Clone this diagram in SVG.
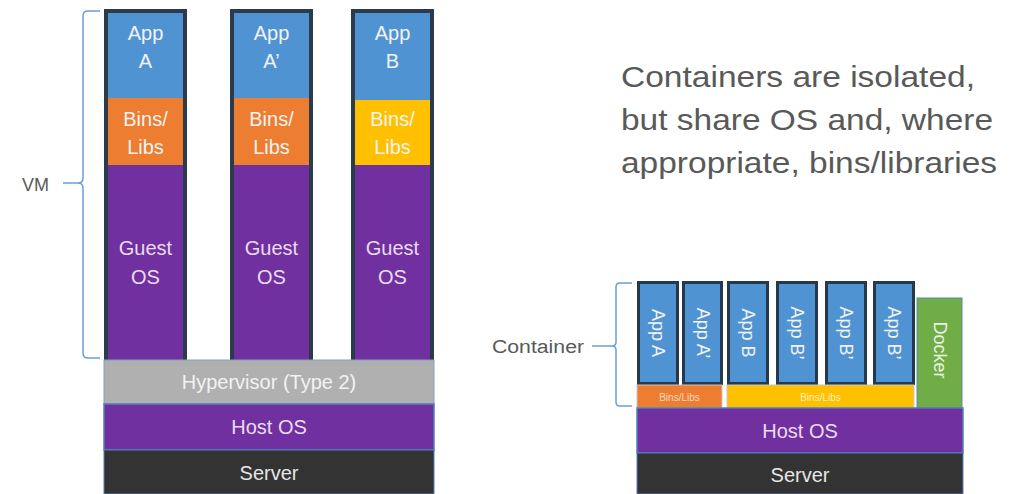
<svg xmlns="http://www.w3.org/2000/svg" width="1016" height="494" viewBox="0 0 1016 494">
<style>
.t{font-family:"Liberation Sans",Arial,sans-serif;text-anchor:middle}
.w{fill:#f2f2f2}
.p{fill:#eadcf0}
.lbl{font-family:"Liberation Sans",Arial,sans-serif;fill:#595959}
.br{fill:none;stroke:#6a9fd4;stroke-width:1.5}
.frame{fill:#2b3b4b}
.app{fill:#5093d3;stroke:#26394a;stroke-width:3}
</style>
<rect width="1016" height="494" fill="#ffffff"/>

<g id="connectors">
<path class="br" d="M100,11 L88,11 Q83,11 83,16 L83,178 Q83,183 78,183 Q83,183 83,188 L83,353 Q83,358 88,358 L100,358"/>
<line class="br" x1="63" y1="183" x2="78" y2="183"/>
<path class="br" d="M632,283 L620,283 Q616,283 616,287 L616,342 Q616,346 612,346 Q616,346 616,350 L616,402 Q616,406 620,406 L632,406"/>
<line class="br" x1="592" y1="346" x2="612" y2="346"/>
</g>

<g id="vm-label"><text class="lbl" x="22" y="191" font-size="18">VM</text></g>
<g id="container-label"><text class="lbl" x="492" y="353" font-size="18" textLength="92" lengthAdjust="spacingAndGlyphs">Container</text></g>

<g id="heading">
<text class="lbl" font-size="30">
<tspan x="621" y="87" textLength="354" lengthAdjust="spacingAndGlyphs">Containers are isolated,</tspan>
<tspan x="621" y="130" textLength="372" lengthAdjust="spacingAndGlyphs">but share OS and, where</tspan>
<tspan x="621" y="173" textLength="376" lengthAdjust="spacingAndGlyphs">appropriate, bins/libraries</tspan>
</text>
</g>

<!-- VM columns -->
<g id="vm1">
<rect class="frame" x="104" y="9" width="83" height="351"/>
<rect x="108" y="13" width="75" height="85" fill="#5093d3"/>
<rect x="108" y="98" width="75" height="67" fill="#ed7d31"/>
<rect x="108" y="165" width="75" height="195" fill="#7030a0"/>
<text class="t w" font-size="20"><tspan x="145.5" y="40">App</tspan><tspan x="145.5" y="68">A</tspan></text>
<text class="t w" font-size="20"><tspan x="145.5" y="126">Bins/</tspan><tspan x="145.5" y="154">Libs</tspan></text>
<text class="t p" font-size="20"><tspan x="145.5" y="255">Guest</tspan><tspan x="145.5" y="284">OS</tspan></text>
</g>
<g id="vm2">
<rect class="frame" x="230" y="9" width="83" height="351"/>
<rect x="234" y="13" width="75" height="85" fill="#5093d3"/>
<rect x="234" y="98" width="75" height="67" fill="#ed7d31"/>
<rect x="234" y="165" width="75" height="195" fill="#7030a0"/>
<text class="t w" font-size="20"><tspan x="271.5" y="40">App</tspan><tspan x="271.5" y="68">A’</tspan></text>
<text class="t w" font-size="20"><tspan x="271.5" y="126">Bins/</tspan><tspan x="271.5" y="154">Libs</tspan></text>
<text class="t p" font-size="20"><tspan x="271.5" y="255">Guest</tspan><tspan x="271.5" y="284">OS</tspan></text>
</g>
<g id="vm3">
<rect class="frame" x="351" y="9" width="83" height="351"/>
<rect x="355" y="13" width="75" height="87" fill="#5093d3"/>
<rect x="355" y="100" width="75" height="65" fill="#ffc000"/>
<rect x="355" y="165" width="75" height="195" fill="#7030a0"/>
<text class="t w" font-size="20"><tspan x="392.5" y="40">App</tspan><tspan x="392.5" y="68">B</tspan></text>
<text class="t w" font-size="20"><tspan x="392.5" y="126">Bins/</tspan><tspan x="392.5" y="154">Libs</tspan></text>
<text class="t p" font-size="20"><tspan x="392.5" y="255">Guest</tspan><tspan x="392.5" y="284">OS</tspan></text>
</g>

<g id="hypervisor">
<rect x="104" y="360" width="330" height="44" fill="#b0b0b0" stroke="#8aa0b8" stroke-width="1"/>
<text class="t w" x="269" y="389" font-size="20">Hypervisor (Type 2)</text>
</g>
<g id="hostos-left">
<rect x="104" y="404" width="330" height="46" fill="#7030a0" stroke="#4f7fb8" stroke-width="1.5"/>
<text class="t p" x="269" y="434" font-size="20">Host OS</text>
</g>
<g id="server-left">
<rect x="104" y="450" width="330" height="44" fill="#333333" stroke="#4f7fb8" stroke-width="1"/>
<text class="t" x="269" y="480" font-size="20" fill="#e6e6e6">Server</text>
</g>

<!-- Containers -->
<g id="appA"><rect class="app" x="638.5" y="282.5" width="39" height="101"/><text class="t w" font-size="18" transform="translate(658,333) rotate(90)" y="6">App A</text></g>
<g id="appA2"><rect class="app" x="683.5" y="282.5" width="38" height="101"/><text class="t w" font-size="18" transform="translate(702.5,333) rotate(90)" y="6">App A’</text></g>
<g id="appB"><rect class="app" x="728.5" y="282.5" width="39" height="101"/><text class="t w" font-size="18" transform="translate(748,333) rotate(90)" y="6">App B</text></g>
<g id="appB1"><rect class="app" x="777.5" y="282.5" width="39" height="101"/><text class="t w" font-size="18" transform="translate(797,333) rotate(90)" y="6">App B’</text></g>
<g id="appB2"><rect class="app" x="826.5" y="282.5" width="39" height="101"/><text class="t w" font-size="18" transform="translate(846,333) rotate(90)" y="6">App B’</text></g>
<g id="appB3"><rect class="app" x="874.5" y="282.5" width="39" height="101"/><text class="t w" font-size="18" transform="translate(894,333) rotate(90)" y="6">App B’</text></g>

<g id="bins-orange">
<rect x="637" y="385" width="85" height="23" fill="#ed7d31" stroke="#c8c8c8" stroke-width="1"/>
<text class="t" x="679.5" y="401" font-size="10" fill="#f8d8c0">Bins/Libs</text>
</g>
<g id="bins-yellow">
<rect x="727" y="385" width="187" height="23" fill="#ffc000" stroke="#c8c8c8" stroke-width="1"/>
<text class="t" x="820.5" y="401" font-size="10" fill="#fff0c0">Bins/Libs</text>
</g>
<g id="docker">
<rect x="917" y="298" width="45" height="110" fill="#70ad47" stroke="#5a8aa8" stroke-width="1"/>
<text class="t" font-size="18" fill="#eaf5e0" transform="translate(939.5,350) rotate(90)" y="6">Docker</text>
</g>
<g id="hostos-right">
<rect x="637" y="408" width="326" height="45" fill="#7030a0" stroke="#4f7fb8" stroke-width="1.5"/>
<text class="t p" x="800" y="438" font-size="20">Host OS</text>
</g>
<g id="server-right">
<rect x="637" y="453" width="326" height="41" fill="#333333" stroke="#4f7fb8" stroke-width="1"/>
<text class="t" x="800" y="482" font-size="20" fill="#e6e6e6">Server</text>
</g>
</svg>
